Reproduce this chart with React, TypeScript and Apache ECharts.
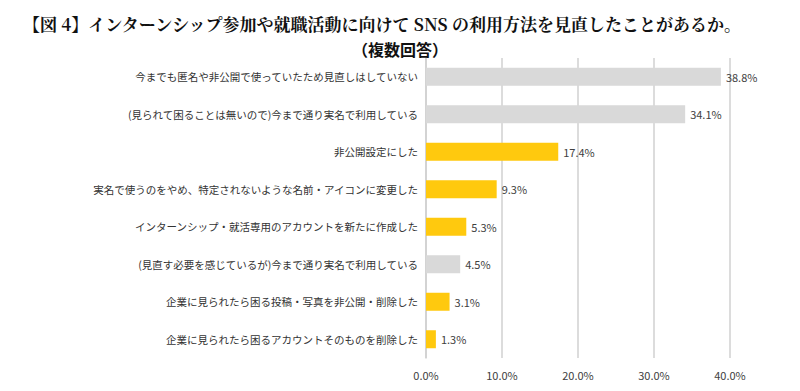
import React, { useEffect, useRef } from "react";
import * as echarts from "echarts";

const titleMain = "【図 4】インターンシップ参加や就職活動に向けて SNS の利用方法を見直したことがあるか。";
const titleSub = "（複数回答）";

const categories = [
  "今までも匿名や非公開で使っていたため見直しはしていない",
  "(見られて困ることは無いので)今まで通り実名で利用している",
  "非公開設定にした",
  "実名で使うのをやめ、特定されないような名前・アイコンに変更した",
  "インターンシップ・就活専用のアカウントを新たに作成した",
  "(見直す必要を感じているが)今まで通り実名で利用している",
  "企業に見られたら困る投稿・写真を非公開・削除した",
  "企業に見られたら困るアカウントそのものを削除した",
];

const values = [38.8, 34.1, 17.4, 9.3, 5.3, 4.5, 3.1, 1.3];

// "g" = not changed (gray), "y" = changed (yellow)
const groups = ["g", "g", "y", "y", "y", "g", "y", "y"];

const groupColors: Record<string, string> = { g: "#D9D9D9", y: "#FFC90E" };

const xTicks = [0, 10, 20, 30, 40];

export default function App() {
  const ref = useRef<HTMLDivElement>(null);
  useEffect(() => {
    if (!ref.current) return;
    const chart = echarts.init(ref.current, undefined, { renderer: "svg" });
    const font = "'Noto Sans CJK JP', 'Noto Sans', sans-serif";
    chart.setOption({
      animation: false,
      backgroundColor: "#ffffff",
      title: [
        {
          text: titleMain,
          left: 18,
          top: 10,
          textStyle: {
            fontFamily: "'Noto Serif CJK JP', 'Noto Sans CJK JP', serif",
            fontSize: 17,
            fontWeight: "bold",
            color: "#111",
          },
        },
        {
          text: titleSub,
          left: 395,
          top: 36,
          textAlign: "center",
          textStyle: {
            fontFamily: "'Noto Sans CJK JP', sans-serif",
            fontSize: 16,
            fontWeight: "bold",
            color: "#111",
          },
        },
      ],
      grid: { left: 426, right: 70, top: 58, bottom: 33, containLabel: false },
      xAxis: {
        type: "value",
        min: xTicks[0],
        max: xTicks[xTicks.length - 1],
        interval: 10,
        axisLine: { show: false },
        axisTick: { show: false },
        splitLine: { show: true, lineStyle: { color: "#D0D0D0", width: 1.5 } },
        axisLabel: {
          formatter: (v: number) => v.toFixed(1) + "%",
          fontFamily: font,
          fontSize: 11,
          color: "#404040",
          margin: 11,
        },
      },
      yAxis: {
        type: "category",
        data: categories,
        inverse: true,
        axisLine: { show: true, lineStyle: { color: "#D0D0D0", width: 1.5 } },
        axisTick: { show: false },
        axisLabel: {
          fontFamily: font,
          fontSize: 10.5,
          color: "#333",
          margin: 8,
        },
      },
      series: [
        {
          type: "bar",
          barWidth: 18,
          data: values.map((v, i) => ({
            value: v,
            itemStyle: { color: groupColors[groups[i]] },
          })),
          label: {
            show: true,
            position: "right",
            distance: 5,
            formatter: (p: any) => p.value.toFixed(1) + "%",
            fontFamily: font,
            fontSize: 11,
            color: "#404040",
          },
        },
      ],
    });
    return () => chart.dispose();
  }, []);
  return (
    <div
      ref={ref}
      style={{ position: "fixed", left: 0, top: 0, width: 800, height: 391 }}
    />
  );
}
